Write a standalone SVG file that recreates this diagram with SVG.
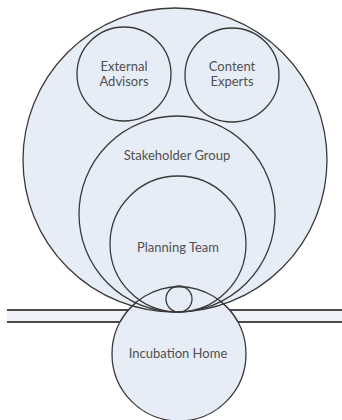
<svg xmlns="http://www.w3.org/2000/svg" width="342" height="420" viewBox="0 0 342 420">
<style>
.c{fill:#e7edf6;stroke:none}
.s{fill:none;stroke:#3a3a3a;stroke-width:1.3}
.l{stroke:#4a4a4a;stroke-width:2}
.t{font-family:Lato,"Liberation Sans",sans-serif;font-size:13px;fill:#505050;text-anchor:middle;dominant-baseline:central}
</style>
<rect width="342" height="420" fill="#fff"/>
<g id="connectors">
<rect x="7" y="310" width="340" height="12" fill="#eef2f8"/>
<line class="l" x1="7" y1="310" x2="342" y2="310"/>
<line class="l" x1="7" y1="322" x2="342" y2="322"/>
</g>
<g id="fills">
<circle class="c" cx="179" cy="354" r="67"/>
<circle class="c" cx="175" cy="160" r="152"/>
</g>
<g id="incubation-home">
<circle class="s" cx="179" cy="354" r="67"/>
<text class="t" x="178" y="353">Incubation Home</text>
</g>
<g id="outer-circle">
<circle class="s" cx="175" cy="160" r="152"/>
</g>
<g id="external-advisors">
<circle class="c" cx="124" cy="74" r="47"/>
<circle class="s" cx="124" cy="74" r="47"/>
<text class="t" x="124" y="66">External</text>
<text class="t" x="124" y="81">Advisors</text>
</g>
<g id="content-experts">
<circle class="c" cx="232" cy="75" r="47"/>
<circle class="s" cx="232" cy="75" r="47"/>
<text class="t" x="232" y="66">Content</text>
<text class="t" x="232" y="81">Experts</text>
</g>
<g id="stakeholder-group">
<circle class="c" cx="177" cy="214" r="98"/>
<circle class="s" cx="177" cy="214" r="98"/>
<text class="t" x="177" y="155">Stakeholder Group</text>
</g>
<g id="planning-team">
<circle class="s" cx="178" cy="244" r="68"/>
<text class="t" x="178" y="247">Planning Team</text>
</g>
<g id="small-circle">
<circle class="s" cx="179" cy="299" r="13"/>
</g>
<g id="incubation-top">
<path class="s" d="M120,322 A67,67 0 0 1 238,322"/>
</g>
</svg>
